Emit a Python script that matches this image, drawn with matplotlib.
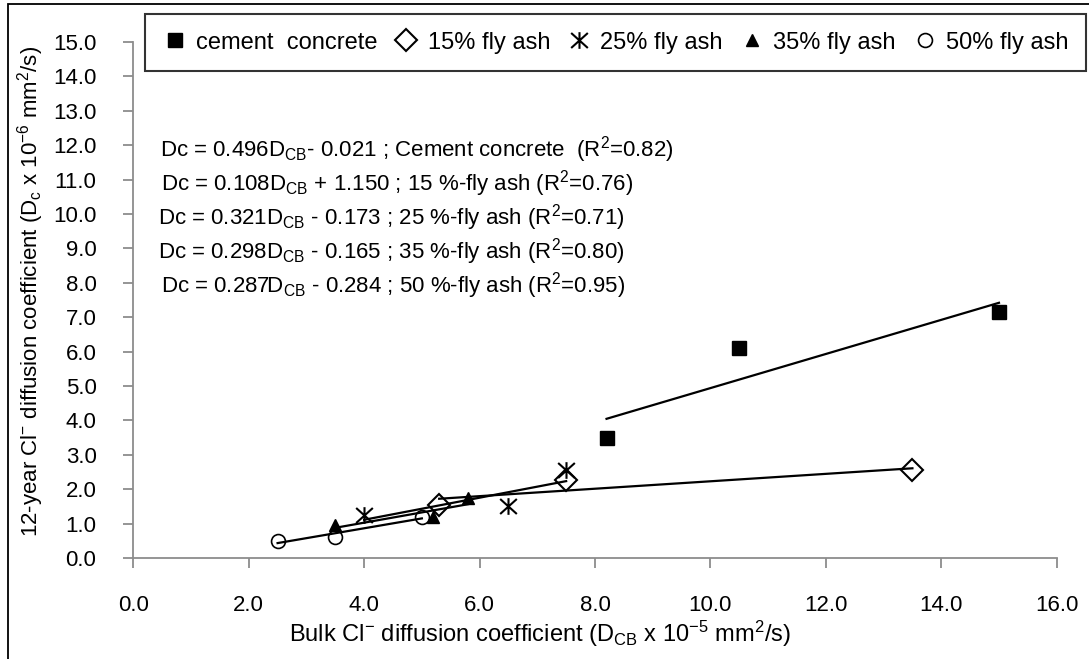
import matplotlib
matplotlib.use("Agg")
import matplotlib.pyplot as plt
from matplotlib.path import Path
from matplotlib.patches import Rectangle
import numpy as np

plt.rcParams["font.family"] = ["Liberation Sans", "DejaVu Sans"]
plt.rcParams["mathtext.default"] = "regular"

# values: x = D_CB (x1e-5 mm2/s), y = Dc (x1e-6 mm2/s)
cement_x = [8.2, 10.5, 15.0]
cement_y = [3.48, 6.10, 7.14]
fa15_x = [5.3, 7.5, 13.5]
fa15_y = [1.55, 2.27, 2.55]
fa25_x = [4.0, 6.5, 7.5]
fa25_y = [1.25, 1.52, 2.56]
fa35_x = [3.5, 5.2, 5.8]
fa35_y = [0.95, 1.19, 1.73]
fa50_x = [2.5, 3.5, 5.0]
fa50_y = [0.49, 0.62, 1.18]

series_labels = ["cement  concrete", "15% fly ash", "25% fly ash",
                 "35% fly ash", "50% fly ash"]
slopes = [0.496, 0.108, 0.321, 0.298, 0.287]
intercepts = [-0.021, 1.150, -0.173, -0.165, -0.284]
equations = [
    r"Dc = 0.496D$_{CB}$- 0.021 ; Cement concrete  (R$^{2}$=0.82)",
    r"Dc = 0.108D$_{CB}$ + 1.150 ; 15 %-fly ash (R$^{2}$=0.76)",
    r"Dc = 0.321D$_{CB}$ - 0.173 ; 25 %-fly ash (R$^{2}$=0.71)",
    r"Dc = 0.298D$_{CB}$ - 0.165 ; 35 %-fly ash (R$^{2}$=0.80)",
    r"Dc = 0.287D$_{CB}$ - 0.284 ; 50 %-fly ash (R$^{2}$=0.95)",
]
x_ticks = np.arange(0, 16.1, 2)
y_ticks = np.arange(0, 15.1, 1)

W, H = 1089, 659
GREY = "#8c8c8c"
FS = 16

# asterisk marker: vertical bar plus an X
star = Path([(-1, -0.9), (1, 0.9), (-1, 0.9), (1, -0.9), (0, -1), (0, 1)],
            [Path.MOVETO, Path.LINETO, Path.MOVETO, Path.LINETO,
             Path.MOVETO, Path.LINETO])

styles = [
    dict(marker="s", markersize=10, markerfacecolor="black", markeredgecolor="black"),
    dict(marker="D", markersize=11, markerfacecolor="none", markeredgecolor="black",
         markeredgewidth=1.5),
    dict(marker=star, markersize=12, markerfacecolor="none", markeredgecolor="black",
         markeredgewidth=1.5),
    dict(marker="^", markersize=9, markerfacecolor="black", markeredgecolor="black"),
    dict(marker="o", markersize=10, markerfacecolor="none", markeredgecolor="black",
         markeredgewidth=1.2),
]

fig = plt.figure(figsize=(W / 100, H / 100), dpi=100)
ax = fig.add_axes([133.3 / W, 1 - 558 / H, (1056.7 - 133.3) / W, (558 - 42) / H])

all_x = [cement_x, fa15_x, fa25_x, fa35_x, fa50_x]
all_y = [cement_y, fa15_y, fa25_y, fa35_y, fa50_y]
handles = []
for xs, ys, lab, st, m, b in zip(all_x, all_y, series_labels, styles, slopes, intercepts):
    h, = ax.plot(xs, ys, linestyle="none", label=lab, zorder=3, **st)
    handles.append(h)
    xl = np.array([min(xs), max(xs)])
    ax.plot(xl, m * xl + b, color="black", lw=1.6, zorder=4)

ax.set_xlim(0, 16)
ax.set_ylim(0, 15)
ax.set_xticks(x_ticks)
ax.set_yticks(y_ticks)
ax.set_xticklabels([f"{v:.1f}" for v in x_ticks])
ax.set_yticklabels([f"{v:.1f}" for v in y_ticks])
for s in ["top", "right"]:
    ax.spines[s].set_visible(False)
for s in ["left", "bottom"]:
    ax.spines[s].set_color(GREY)
    ax.spines[s].set_linewidth(1.3)
ax.tick_params(direction="out", length=7.5, width=1.3, color=GREY,
               labelsize=FS, pad=19)

fig.text(540 / W, 1 - 634 / H,
         r"Bulk Cl$^{-}$ diffusion coefficient (D$_{CB}$ x 10$^{-5}$ mm$^{2}$/s)",
         ha="center", va="center", fontsize=17)
fig.text(31 / W, 1 - 291 / H,
         r"12-year Cl$^{-}$ diffusion coefficient (D$_{c}$ x 10$^{-6}$ mm$^{2}$/s)",
         ha="center", va="center", rotation=90, fontsize=FS)

eq_x = [160, 161, 158, 158, 161]
eq_y = [150, 184, 218, 252, 286]
for t, xp, yp in zip(equations, eq_x, eq_y):
    fig.text(xp / W, 1 - yp / H, t, ha="left", va="center", fontsize=FS)

leg = fig.legend(handles=handles, loc="upper left", ncols=5, mode="expand",
                 bbox_to_anchor=(145 / W, 1 - 72 / H, (1086 - 145) / W, 58 / H),
                 fontsize=17, frameon=True, fancybox=False, borderpad=0.75,
                 handlelength=1.0, handletextpad=0.4, columnspacing=0.5,
                 borderaxespad=0)
leg.get_frame().set_edgecolor("black")
leg.get_frame().set_linewidth(1.5)

# outer border of the embedded chart (right and bottom fall off the image)
fig.patches.append(Rectangle((7.5 / W, -0.1), 1.2, 1.1 - 4 / H, fill=False,
                             edgecolor="black", lw=1.3, transform=fig.transFigure))

fig.savefig("out.png", dpi=100)
